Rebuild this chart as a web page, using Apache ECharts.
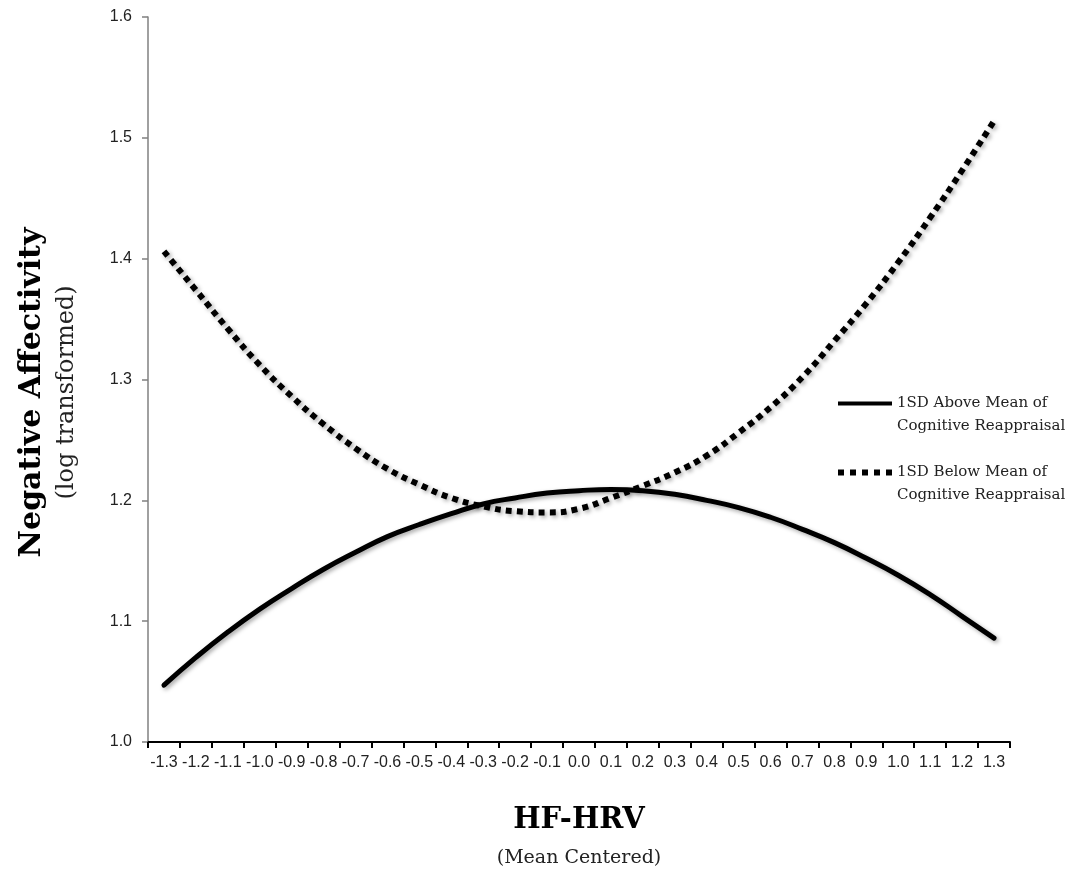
<!DOCTYPE html>
<html>
<head>
<meta charset="utf-8">
<script src="https://cdn.jsdelivr.net/npm/echarts@6/dist/echarts.min.js"></script>
<style>
  html, body { margin: 0; padding: 0; background: #fff; }
  #chart { width: 1076px; height: 879px; }
</style>
</head>
<body>
<div id="chart"></div>
<script>
// ---- data ----
const categories = ['-1.3','-1.2','-1.1','-1.0','-0.9','-0.8','-0.7','-0.6','-0.5','-0.4','-0.3','-0.2','-0.1','0.0','0.1','0.2','0.3','0.4','0.5','0.6','0.7','0.8','0.9','1.0','1.1','1.2','1.3'];
const aboveMean = [1.047,1.070,1.091,1.110,1.127,1.143,1.157,1.170,1.180,1.189,1.197,1.202,1.206,1.208,1.209,1.208,1.205,1.200,1.194,1.186,1.176,1.165,1.152,1.138,1.122,1.104,1.086];
const belowMean = [1.406,1.374,1.342,1.312,1.286,1.263,1.243,1.226,1.213,1.202,1.195,1.191,1.190,1.193,1.202,1.212,1.223,1.237,1.256,1.277,1.302,1.332,1.363,1.397,1.434,1.473,1.514];
const seriesNames = ['1SD Above Mean of\nCognitive Reappraisal', '1SD Below Mean of\nCognitive Reappraisal'];
const yTicks = { min: 1.0, max: 1.6, interval: 0.1 };

const chart = echarts.init(document.getElementById('chart'), null, { renderer: 'canvas' });
const shadow = { shadowColor: 'rgba(0,0,0,0.35)', shadowBlur: 4, shadowOffsetX: 2, shadowOffsetY: 2 };
const dotIcon = 'path://M0,0h6v6h-6z M12,0h6v6h-6z M24,0h6v6h-6z M36,0h6v6h-6z M48,0h6v6h-6z';

chart.setOption({
  animation: false,
  backgroundColor: '#ffffff',
  grid: { left: 148, right: 66, top: 17, bottom: 137, containLabel: false },
  legend: {
    orient: 'vertical',
    left: 838,
    top: 369,
    padding: 0,
    itemGap: 0,
    itemWidth: 54,
    itemHeight: 6,
    data: [
      { name: seriesNames[0], icon: 'path://M0,0h54v4h-54z' },
      { name: seriesNames[1], icon: dotIcon }
    ],
    formatter: function (n) { return '\n' + n; },
    textStyle: { fontFamily: 'DejaVu Serif', fontSize: 15, lineHeight: 23, color: '#222' },
    itemStyle: { color: '#000', borderWidth: 0 }
  },
  xAxis: {
    type: 'category',
    data: categories,
    boundaryGap: true,
    name: '{a|HF-HRV}\n{b|(Mean Centered)}',
    nameLocation: 'middle',
    nameGap: 58,
    nameTextStyle: {
      rich: {
        a: { fontFamily: 'DejaVu Serif', fontWeight: 'bold', fontSize: 29, lineHeight: 40, color: '#000', align: 'center' },
        b: { fontFamily: 'DejaVu Serif', fontSize: 19, lineHeight: 36, color: '#222', align: 'center' }
      }
    },
    axisLine: { lineStyle: { color: '#000', width: 2 } },
    axisTick: { show: true, length: 6, alignWithLabel: false, lineStyle: { color: '#000', width: 2 } },
    axisLabel: { interval: 0, margin: 13, fontFamily: 'Liberation Sans', fontSize: 16, color: '#222' },
    splitLine: { show: false }
  },
  yAxis: {
    type: 'value',
    min: yTicks.min,
    max: yTicks.max,
    interval: yTicks.interval,
    name: '{a|Negative Affectivity}\n{b|(log transformed)}',
    nameLocation: 'middle',
    nameGap: 66,
    nameTextStyle: {
      padding: [0, 26, 0, 0],
      rich: {
        a: { fontFamily: 'DejaVu Serif', fontWeight: 'bold', fontSize: 30, lineHeight: 40, color: '#000', align: 'center' },
        b: { fontFamily: 'DejaVu Serif', fontSize: 24, lineHeight: 30, color: '#222', align: 'center' }
      }
    },
    axisLine: { show: true, lineStyle: { color: '#808080', width: 1.5 } },
    axisTick: { show: true, length: 6, lineStyle: { color: '#808080', width: 1.5 } },
    axisLabel: { margin: 16, fontFamily: 'Liberation Sans', fontSize: 16, color: '#222',
      formatter: function (v) { return v.toFixed(1); } },
    splitLine: { show: false }
  },
  series: [
    {
      name: seriesNames[0],
      type: 'line',
      data: aboveMean,
      smooth: true,
      symbol: 'none',
      lineStyle: Object.assign({ color: '#000', width: 5, type: 'solid', cap: 'round' }, shadow),
      itemStyle: { color: '#000' }
    },
    {
      name: seriesNames[1],
      type: 'line',
      data: belowMean,
      smooth: true,
      symbol: 'none',
      lineStyle: Object.assign({ color: '#000', width: 6, type: [6, 5], cap: 'butt' }, shadow),
      itemStyle: { color: '#000' }
    }
  ]
});
</script>
</body>
</html>
